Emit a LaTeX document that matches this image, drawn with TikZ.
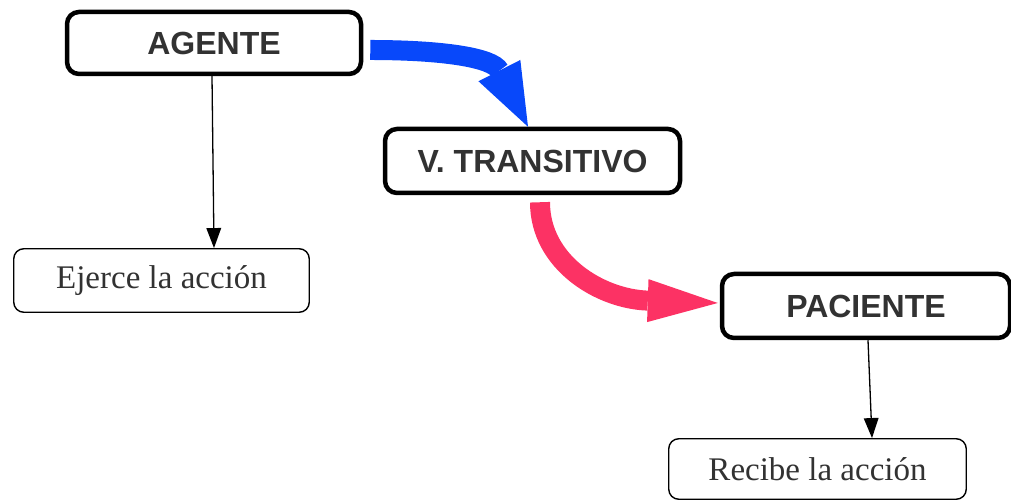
\documentclass[tikz,border=0pt]{standalone}
\usepackage{fontspec}
\setmainfont{Liberation Serif}
\newfontfamily\headfont{Liberation Sans}
\usetikzlibrary{arrows.meta}
\definecolor{flowblue}{RGB}{8,72,250}
\definecolor{flowred}{RGB}{252,50,100}
\definecolor{ink}{RGB}{50,50,50}

\begin{document}
\begin{tikzpicture}[x=1pt,y=1pt,
  headbox/.style={draw=black, line width=4.5pt, rounded corners=12pt, fill=white,
    inner sep=0pt, text=ink, font=\headfont\bfseries\fontsize{32}{38}\selectfont},
  notebox/.style={draw=black, line width=1.4pt, rounded corners=10pt, fill=white,
    inner sep=0pt, text=ink, font=\fontsize{33}{40}\selectfont},
  link/.style={line width=1.3pt, -{Triangle[length=20pt,width=15pt,line width=0pt]}},
  flow/.style={line width=20pt},
  blueflow/.style={flow, draw=flowblue, -{Triangle[length=63pt,width=47pt,line width=0pt]}},
  redflow/.style={flow, draw=flowred, -{Triangle[length=70pt,width=43pt,line width=0pt]}}]

\useasboundingbox (0,0) rectangle (1011,502);

% main chain
\node[headbox, minimum width=294pt, minimum height=62pt] (agente) at (214,459) {AGENTE};
\node[headbox, minimum width=295pt, minimum height=64pt] (verbo) at (532.5,341) {V. TRANSITIVO};
\node[headbox, minimum width=288pt, minimum height=64pt] (paciente) at (866,196) {PACIENTE};

% notes
\node[notebox, minimum width=295.5pt, minimum height=63.5pt] (ejerce) at (161.5,221.5) {Ejerce la acción};
\node[notebox, minimum width=297.5pt, minimum height=60.5pt] (recibe) at (817.5,33) {Recibe la acción};

% flow arrows
\draw[blueflow] ([shift={(7pt,-7pt)}]agente.east)
  .. controls +(70,0) and +(117:78) .. ([xshift=-4.5pt]verbo.north);
\draw[redflow] ([shift={(7.5pt,-7pt)}]verbo.south)
  .. controls +(0,-60) and +(-118,4) .. ([shift={(-2pt,3pt)}]paciente.west);

% note links
\draw[link] ([xshift=-2pt]agente.south) -- ([xshift=52.5pt]ejerce.north);
\draw[link] ([xshift=2pt]paciente.south) -- ([xshift=54.5pt]recibe.north);
\end{tikzpicture}
\end{document}
